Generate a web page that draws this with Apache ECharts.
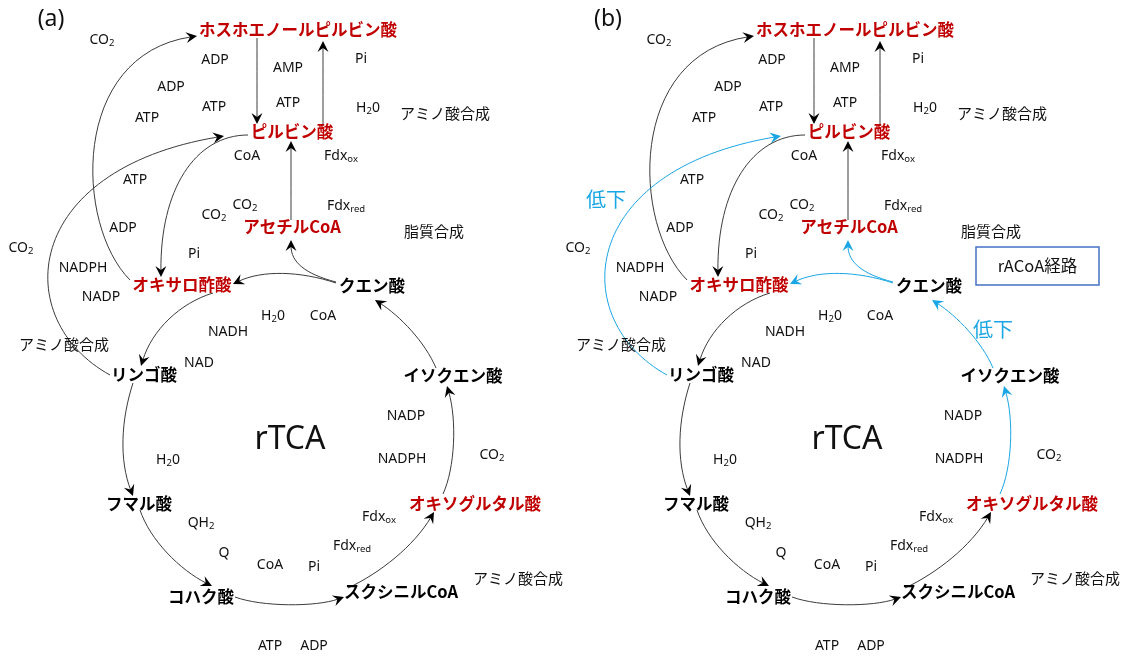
<!DOCTYPE html>
<html>
<head>
<meta charset="utf-8">
<script src="https://cdn.jsdelivr.net/npm/echarts@6/dist/echarts.min.js"></script>
<style>
  html, body { margin: 0; padding: 0; background: #ffffff; }
  #chart { width: 1124px; height: 659px; }
</style>
</head>
<body>
<div id="chart"></div>
<script>
// Canvas extent in diagram units (one unit = one pixel)
const WIDTH = 1124;
const HEIGHT = 659;
// Panel (b) repeats panel (a) to the right
const PANEL_B_SHIFT = 557;

// Key metabolites: [name, x, y, highlighted]
const metabolites = [
  ['ホスホエノールピルビン酸', 298, 30, true],
  ['ピルビン酸', 292, 132, true],
  ['アセチルCoA', 292, 227, true],
  ['オキサロ酢酸', 182, 285, true],
  ['クエン酸', 372, 286, false],
  ['リンゴ酸', 144, 375, false],
  ['イソクエン酸', 453, 376, false],
  ['フマル酸', 139, 504, false],
  ['オキソグルタル酸', 475, 504, true],
  ['コハク酸', 201, 597, false],
  ['スクシニルCoA', 401, 592, false]
];

// Cofactors and by-products: [text, x, y]; {s|..} marks a subscript
const cofactors = [
  ['CO{s|2}', 102, 40], ['ADP', 215, 60], ['AMP', 288, 68], ['Pi', 361, 59],
  ['ADP', 171, 87], ['ATP', 214, 107], ['ATP', 288, 103], ['H{s|2}0', 368, 108],
  ['ATP', 147, 118], ['CoA', 247, 156], ['Fdx{s|ox}', 341, 156], ['ATP', 135, 180],
  ['CO{s|2}', 245, 205], ['Fdx{s|red}', 346, 206], ['CO{s|2}', 214, 215], ['ADP', 123, 228],
  ['CO{s|2}', 21, 248], ['Pi', 194, 254], ['NADPH', 83, 268], ['NADP', 101, 297],
  ['H{s|2}0', 273, 316], ['CoA', 323, 316], ['NADH', 228, 332], ['NAD', 199, 363],
  ['NADP', 406, 416], ['H{s|2}0', 168, 460], ['NADPH', 402, 459], ['CO{s|2}', 492, 455],
  ['Fdx{s|ox}', 379, 517], ['QH{s|2}', 201, 523], ['Fdx{s|red}', 352, 546], ['Q', 224, 553],
  ['CoA', 270, 565], ['Pi', 314, 567], ['ATP', 270, 646], ['ADP', 314, 646]
];

// Biosynthesis outlets: [text, x, y]
const synthesisNotes = [
  ['アミノ酸合成', 445, 113],
  ['脂質合成', 434, 231],
  ['アミノ酸合成', 64, 344],
  ['アミノ酸合成', 518, 578]
];

const panelTitles = [['(a)', 51, 19], ['(b)', 608, 19]];
const cycleTitle = ['rTCA', 290, 440];

// Reactions as cubic Bézier control points: [id, x0, y0, x1, y1, x2, y2, x3, y3]
const reactions = [
  ['A1', 257, 38, 257, 70, 257, 95, 257, 124],
  ['A2', 323, 126, 323, 100, 323, 70, 323, 41],
  ['A3', 291, 220, 291, 190, 291, 165, 291, 141],
  ['A4', 336, 282, 305, 274, 291, 262, 291, 240],
  ['A5', 336, 283, 300, 271, 262, 270, 233, 284],
  ['A6', 130, 280, 75, 225, 70, 55, 197, 36],
  ['A7', 110, 375, 10, 320, 20, 170, 224, 136],
  ['A8', 248, 135, 195, 135, 160, 190, 161, 277],
  ['T1', 213, 293, 180, 303, 152, 330, 141, 366],
  ['T2', 133, 383, 121, 420, 119, 460, 133, 496],
  ['T3', 140, 510, 150, 540, 180, 570, 212, 586],
  ['T4', 235, 597, 262, 607, 316, 607, 344, 597],
  ['T5', 348, 588, 380, 573, 414, 546, 434, 512],
  ['T6', 443, 494, 455, 468, 457, 420, 447, 386],
  ['T7', 436, 368, 425, 342, 400, 316, 375, 300]
];

// Steps drawn as lowered in panel (b)
const loweredInB = ['A4', 'A5', 'A7', 'T6', 'T7'];
const loweredLabels = [['低下', 606, 199], ['低下', 993, 329]];
// rACoA pathway legend box: [text, left, top, right, bottom]
const pathwayBox = ['rACoA経路', 976, 247, 1099, 285];

const RED = '#c00000';
const BLUE = '#1aa6e4';
const INK = '#111111';
const LINE = '#3c3c3c';
const BOX = '#4472c4';
const JP = '"Noto Sans CJK JP", "Noto Sans", sans-serif';
const LAT = '"Noto Sans", "Open Sans", sans-serif';

// ---- assemble text items for both panels ----
const labelItems = [];
[0, PANEL_B_SHIFT].forEach(function (dx) {
  metabolites.forEach(function (m) {
    labelItems.push({ kind: 'metab', text: m[0], x: m[1] + dx, y: m[2], color: m[3] ? RED : '#000' });
  });
  cofactors.forEach(function (c) {
    labelItems.push({ kind: 'cof', text: c[0], x: c[1] + dx, y: c[2] });
  });
  synthesisNotes.forEach(function (n) {
    labelItems.push({ kind: 'note', text: n[0], x: n[1] + dx, y: n[2] });
  });
  labelItems.push({ kind: 'cycle', text: cycleTitle[0], x: cycleTitle[1] + dx, y: cycleTitle[2] });
});
panelTitles.forEach(function (t) {
  labelItems.push({ kind: 'panel', text: t[0], x: t[1], y: t[2] });
});
loweredLabels.forEach(function (t) {
  labelItems.push({ kind: 'drop', text: t[0], x: t[1], y: t[2] });
});
labelItems.push({
  kind: 'box', text: pathwayBox[0],
  x: (pathwayBox[1] + pathwayBox[3]) / 2, y: (pathwayBox[2] + pathwayBox[4]) / 2
});

const textStyles = {
  metab: { fontSize: 16.5, fontWeight: 'bold', fontFamily: JP, fill: '#000' },
  cof: {
    fontSize: 14, fontFamily: LAT, fill: INK, lineHeight: 16,
    rich: { s: { fontSize: 9.5, fontFamily: LAT, fill: INK, lineHeight: 11, verticalAlign: 'bottom' } }
  },
  note: { fontSize: 15, fontFamily: JP, fill: INK },
  cycle: { fontSize: 32, fontFamily: LAT, fill: INK },
  panel: { fontSize: 23, fontFamily: LAT, fill: INK },
  drop: { fontSize: 20, fontFamily: JP, fill: BLUE },
  box: { fontSize: 16.5, fontFamily: JP, fill: INK }
};

// ---- reaction arrows for both panels ----
const arrowData = [];
reactions.forEach(function (r) {
  arrowData.push(r.slice(1).concat([0]));
});
reactions.forEach(function (r) {
  const pts = r.slice(1).map(function (v, i) { return i % 2 === 0 ? v + PANEL_B_SHIFT : v; });
  arrowData.push(pts.concat([loweredInB.indexOf(r[0]) >= 0 ? 1 : 0]));
});

function renderArrow(params, api) {
  const p = [];
  for (let i = 0; i < 4; i++) {
    p.push(api.coord([api.value(2 * i), api.value(2 * i + 1)]));
  }
  const color = api.value(8) === 1 ? BLUE : LINE;
  const headColor = api.value(8) === 1 ? BLUE : '#000';
  let dx = p[3][0] - p[2][0], dy = p[3][1] - p[2][1];
  let len = Math.hypot(dx, dy);
  if (len < 1e-6) { dx = p[3][0] - p[0][0]; dy = p[3][1] - p[0][1]; len = Math.hypot(dx, dy); }
  const ux = dx / len, uy = dy / len;
  const nx = -uy, ny = ux;
  const L = 11, HW = 5.5, NOTCH = 4;
  const tip = p[3];
  const head = [
    tip,
    [tip[0] - ux * L + nx * HW, tip[1] - uy * L + ny * HW],
    [tip[0] - ux * (L - NOTCH), tip[1] - uy * (L - NOTCH)],
    [tip[0] - ux * L - nx * HW, tip[1] - uy * L - ny * HW]
  ];
  return {
    type: 'group',
    children: [
      {
        type: 'bezierCurve',
        shape: {
          x1: p[0][0], y1: p[0][1],
          cpx1: p[1][0], cpy1: p[1][1],
          cpx2: p[2][0], cpy2: p[2][1],
          x2: p[3][0] - ux * 6, y2: p[3][1] - uy * 6
        },
        style: { stroke: color, lineWidth: 1, fill: null }
      },
      {
        type: 'polygon',
        shape: { points: head },
        style: { fill: headColor, stroke: null }
      }
    ]
  };
}

function renderLabel(params, api) {
  const item = labelItems[api.value(2)];
  const pt = api.coord([api.value(0), api.value(1)]);
  const st = textStyles[item.kind];
  return {
    type: 'text',
    x: pt[0],
    y: pt[1],
    style: Object.assign({}, st, {
      text: item.text,
      fill: item.color || st.fill,
      align: 'center',
      verticalAlign: 'middle'
    })
  };
}

function renderBox(params, api) {
  const a = api.coord([api.value(0), api.value(1)]);
  const b = api.coord([api.value(2), api.value(3)]);
  return {
    type: 'rect',
    shape: { x: a[0], y: a[1], width: b[0] - a[0], height: b[1] - a[1] },
    style: { fill: '#ffffff', stroke: BOX, lineWidth: 1.5 }
  };
}

const chart = echarts.init(document.getElementById('chart'), null, { renderer: 'canvas' });
chart.setOption({
  backgroundColor: '#ffffff',
  animation: false,
  grid: { left: 0, right: 0, top: 0, bottom: 0 },
  xAxis: { type: 'value', min: 0, max: WIDTH, show: false },
  yAxis: { type: 'value', min: 0, max: HEIGHT, inverse: true, show: false },
  series: [
    {
      type: 'custom',
      name: 'box',
      renderItem: renderBox,
      encode: { x: [0, 2], y: [1, 3] },
      data: [[pathwayBox[1], pathwayBox[2], pathwayBox[3], pathwayBox[4]]],
      silent: true,
      z: 1
    },
    {
      type: 'custom',
      name: 'reactions',
      renderItem: renderArrow,
      encode: { x: [0, 2, 4, 6], y: [1, 3, 5, 7] },
      data: arrowData,
      silent: true,
      z: 2
    },
    {
      type: 'custom',
      name: 'labels',
      renderItem: renderLabel,
      encode: { x: 0, y: 1 },
      data: labelItems.map(function (l, i) { return [l.x, l.y, i]; }),
      silent: true,
      z: 3
    }
  ]
});
</script>
</body>
</html>
